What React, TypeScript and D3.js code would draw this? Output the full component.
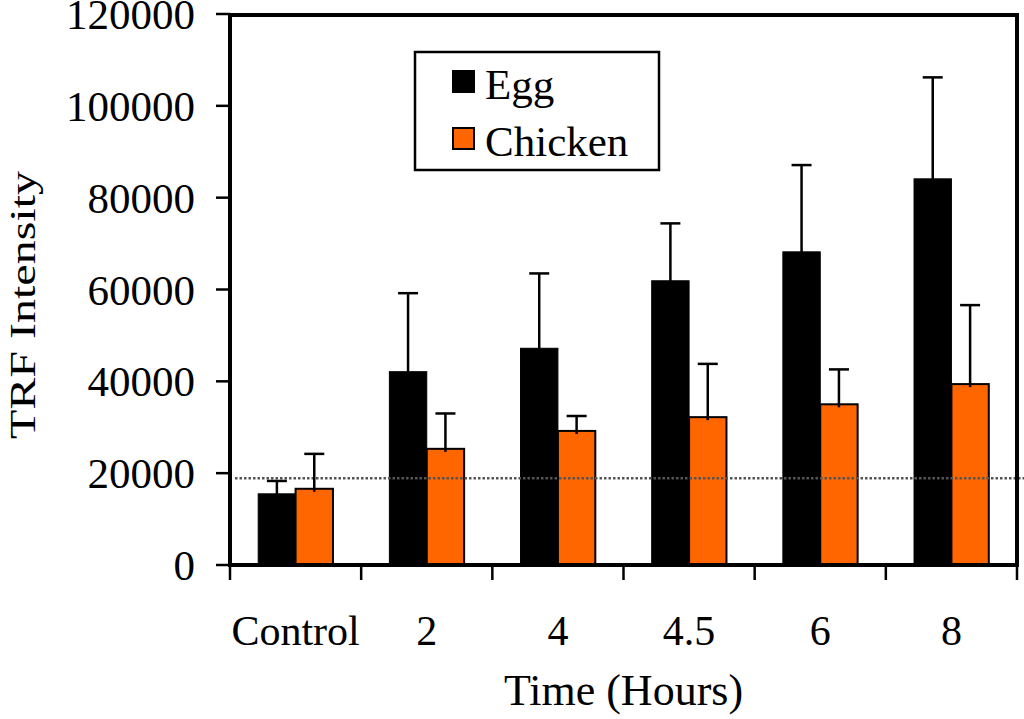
import React from 'react';
import * as d3 from 'd3';

const categories = ['Control', '2', '4', '4.5', '6', '8'];
const seriesNames = ['Egg', 'Chicken'];
const eggValues = [15500, 42100, 47200, 61900, 68200, 84100];
const eggErrors = [2800, 17100, 16300, 12500, 18900, 22100];
const chickenValues = [16600, 25300, 29200, 32200, 35000, 39400];
const chickenErrors = [7600, 7700, 3250, 11600, 7600, 17200];
const yTicks = [0, 20000, 40000, 60000, 80000, 100000, 120000];
const thresholdValue = 18900;

const width = 1024;
const height = 719;
const left = 230;
const right = 1017;
const top = 14;
const bottom = 565;
const font = '"Liberation Serif", "Times New Roman", serif';
const orange = '#FF6600';

const App: React.FC = () => {
  const x = d3.scaleBand<string>().domain(categories).range([left, right]).padding(0);
  const y = d3.scaleLinear().domain([0, 120000]).range([bottom, top]);
  const barW = x.bandwidth() * 0.285;

  const series = [
    { name: seriesNames[0], values: eggValues, errors: eggErrors, fill: '#000000', offset: -1 },
    { name: seriesNames[1], values: chickenValues, errors: chickenErrors, fill: orange, offset: 0 },
  ];

  const bounds = categories.map(c => x(c)!).concat([right]);

  return (
    <svg width={width} height={height} style={{ position: 'absolute', left: 0, top: 0, background: '#fff' }}>
      {/* bars */}
      {series.map(s =>
        s.values.map((v, i) => {
          const cx = x(categories[i])! + x.bandwidth() / 2;
          const bx = cx + s.offset * barW;
          return (
            <rect key={s.name + i} x={bx} y={y(v)} width={barW} height={bottom - y(v)}
              fill={s.fill} stroke="#000" strokeWidth={s.fill === orange ? 2 : 1} />
          );
        })
      )}

      {/* reference line */}
      <line x1={left + 5} x2={width} y1={y(thresholdValue)} y2={y(thresholdValue)}
        stroke="#555" strokeWidth={2.5} strokeDasharray="2.5,2" />

      {/* error bars */}
      {series.map(s =>
        s.values.map((v, i) => {
          const cx = x(categories[i])! + x.bandwidth() / 2 + s.offset * barW + barW / 2;
          const t = y(v + s.errors[i]);
          return (
            <g key={'e' + s.name + i} stroke="#000" strokeWidth={2.5}>
              <line x1={cx} x2={cx} y1={y(v) + 3} y2={t} />
              <line x1={cx - 10} x2={cx + 10} y1={t} y2={t} />
            </g>
          );
        })
      )}

      {/* frame */}
      <rect x={left} y={15} width={right - left} height={bottom - 15} fill="none" stroke="#000" strokeWidth={4} />

      {/* y axis ticks and labels */}
      {yTicks.map(t => (
        <g key={'y' + t}>
          <line x1={216} x2={left} y1={y(t)} y2={y(t)} stroke="#000" strokeWidth={2.5} />
          <text x={195} y={y(t) + 15} textAnchor="end" fontFamily={font} fontSize={43} fill="#000">{t}</text>
        </g>
      ))}

      {/* x axis ticks and labels */}
      {bounds.map((b, i) => (
        <line key={'xt' + i} x1={b} x2={b} y1={bottom} y2={580} stroke="#000" strokeWidth={2.5} />
      ))}
      {categories.map(c => (
        <text key={'xl' + c} x={x(c)! + x.bandwidth() / 2} y={645} textAnchor="middle"
          fontFamily={font} fontSize={42} fill="#000">{c}</text>
      ))}

      {/* axis titles */}
      <text x={(left + right) / 2} y={705} textAnchor="middle" fontFamily={font} fontSize={44} fill="#000">Time (Hours)</text>
      <text transform={`translate(35,305) rotate(-90)`} textAnchor="middle" fontFamily={font} fontSize={35}
        fill="#000" textLength={268} lengthAdjust="spacingAndGlyphs">TRF Intensity</text>

      {/* legend */}
      <rect x={415} y={52} width={244} height={118} fill="#fff" stroke="#000" strokeWidth={2.5} />
      {series.map((s, i) => (
        <g key={'lg' + s.name}>
          <rect x={453} y={71 + i * 57} width={21} height={21} fill={s.fill} stroke="#000" strokeWidth={2} />
          <text x={485} y={99 + i * 57} fontFamily={font} fontSize={43} fill="#000">{s.name}</text>
        </g>
      ))}
    </svg>
  );
};

export default App;
